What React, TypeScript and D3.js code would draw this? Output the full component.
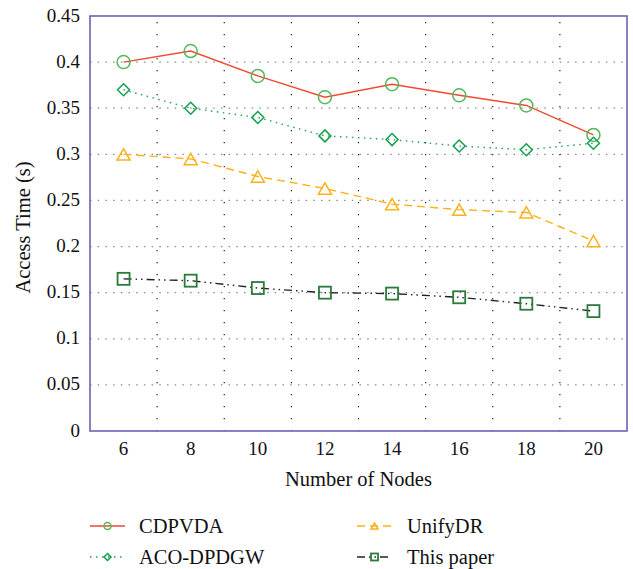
import React from 'react'
import * as d3 from 'd3'

const nodes = [6, 8, 10, 12, 14, 16, 18, 20]
const cdpvda = [0.4, 0.412, 0.385, 0.362, 0.376, 0.364, 0.353, 0.321]
const acoDpdgw = [0.37, 0.35, 0.34, 0.32, 0.316, 0.309, 0.305, 0.312]
const unifyDr = [0.3, 0.295, 0.276, 0.263, 0.246, 0.24, 0.237, 0.206]
const thisPaper = [0.165, 0.163, 0.155, 0.15, 0.149, 0.145, 0.138, 0.13]
const yTicks = [0, 0.05, 0.1, 0.15, 0.2, 0.25, 0.3, 0.35, 0.4, 0.45]
const xGridAt = [7, 9, 11, 13, 15, 17, 19]

const W = 633
const H = 569
const M = { top: 16, right: 6, bottom: 138, left: 90 }
const FONT = '"Liberation Serif", "Times New Roman", serif'

const x = d3.scaleLinear().domain([5, 21]).range([M.left, W - M.right])
const y = d3.scaleLinear().domain([0, 0.45]).range([H - M.bottom, M.top])

type Marker = 'circle' | 'diamond' | 'triangle' | 'square'

const series = [
  { name: 'CDPVDA', values: cdpvda, line: '#f0492e', dash: undefined, marker: 'circle' as Marker, mcolor: '#55b85c' },
  { name: 'UnifyDR', values: unifyDr, line: '#fbb21a', dash: '8 5', marker: 'triangle' as Marker, mcolor: '#fbb21a' },
  { name: 'ACO-DPDGW', values: acoDpdgw, line: '#1fa355', dash: '1.5 4.5', marker: 'diamond' as Marker, mcolor: '#13a04d' },
  { name: 'This paper', values: thisPaper, line: '#222', dash: '8 4 1.5 4 1.5 4', marker: 'square' as Marker, mcolor: '#2c7a3c' }
]

const drawMarker = (m: Marker, cx: number, cy: number, s: number, color: string, key?: string | number) => {
  const common = { fill: 'none', stroke: color, strokeWidth: 1.5 }
  if (m === 'circle') return <circle key={key} cx={cx} cy={cy} r={s} {...common} />
  if (m === 'diamond') {
    const d = `M${cx},${cy - s}L${cx + s},${cy}L${cx},${cy + s}L${cx - s},${cy}Z`
    return <path key={key} d={d} {...common} />
  }
  if (m === 'triangle') {
    const h = s * 1.75
    const d = `M${cx},${cy - h / 2}L${cx + s},${cy + h / 2}L${cx - s},${cy + h / 2}Z`
    return <path key={key} d={d} {...common} />
  }
  return <rect key={key} x={cx - s} y={cy - s} width={s * 2} height={s * 2} {...common} strokeWidth={1.8} />
}

const sizes: Record<Marker, number> = { circle: 6.5, diamond: 6, triangle: 6.5, square: 6 }
const legendSizes: Record<Marker, number> = { circle: 3.5, diamond: 3.5, triangle: 3.5, square: 3.5 }

const App = () => {
  const line = d3
    .line<number>()
    .x((d, i) => x(nodes[i]))
    .y(d => y(d))

  const legendPos = [
    { lx: 90, tx: 139, ly: 526 },
    { lx: 357, tx: 407, ly: 526 },
    { lx: 90, tx: 139, ly: 557 },
    { lx: 357, tx: 407, ly: 557 }
  ]

  return (
    <svg width={W} height={H} style={{ position: 'absolute', left: 0, top: 0, background: '#fff' }} fontFamily={FONT}>
      {/* horizontal grid */}
      {yTicks.slice(1, -1).map(t => (
        <line key={'h' + t} x1={x(5)} x2={x(21)} y1={y(t)} y2={y(t)} stroke="#8a8a8a" strokeWidth={1.3} strokeDasharray="1.5 6.2" />
      ))}
      {/* vertical grid */}
      {xGridAt.map(v => (
        <line key={'v' + v} x1={x(v)} x2={x(v)} y1={y(0.45)} y2={y(0)} stroke="#111" strokeWidth={1.1} strokeDasharray="1.2 10.8" strokeDashoffset={-6} />
      ))}

      {series.map(s => (
        <g key={s.name}>
          <path d={line(s.values) || ''} fill="none" stroke={s.line} strokeWidth={1.4} strokeDasharray={s.dash} />
          {s.values.map((v, i) => drawMarker(s.marker, x(nodes[i]), y(v), sizes[s.marker], s.mcolor, i))}
        </g>
      ))}

      {/* frame */}
      <rect x={x(5)} y={y(0.45)} width={x(21) - x(5)} height={y(0) - y(0.45)} fill="none" stroke="#6b62b3" strokeWidth={1.6} />

      {/* y ticks */}
      {yTicks.map(t => (
        <text key={'yt' + t} x={x(5) - 10} y={y(t) + 5.5} textAnchor="end" fontSize={19} fill="#111">
          {t}
        </text>
      ))}
      {/* x ticks */}
      {nodes.map(n => (
        <text key={'xt' + n} x={x(n)} y={455} textAnchor="middle" fontSize={19} fill="#111">
          {n}
        </text>
      ))}

      <text x={(x(5) + x(21)) / 2} y={486} textAnchor="middle" fontSize={20.5} fill="#111">
        Number of Nodes
      </text>
      <text transform={`translate(30,${(y(0) + y(0.45)) / 2 + 4}) rotate(-90)`} textAnchor="middle" fontSize={20.5} fill="#111">
        Access Time (s)
      </text>

      {/* legend */}
      {series.map((s, i) => {
        const p = legendPos[i]
        return (
          <g key={'lg' + s.name}>
            <line x1={p.lx} x2={p.lx + 35} y1={p.ly} y2={p.ly} stroke={s.line} strokeWidth={1.4} strokeDasharray={s.dash} />
            {drawMarker(s.marker, p.lx + 17.5, p.ly, legendSizes[s.marker], s.mcolor)}
            <text x={p.tx} y={p.ly + 7} fontSize={20.5} fill="#111">
              {s.name}
            </text>
          </g>
        )
      })}
    </svg>
  )
}

export default App
